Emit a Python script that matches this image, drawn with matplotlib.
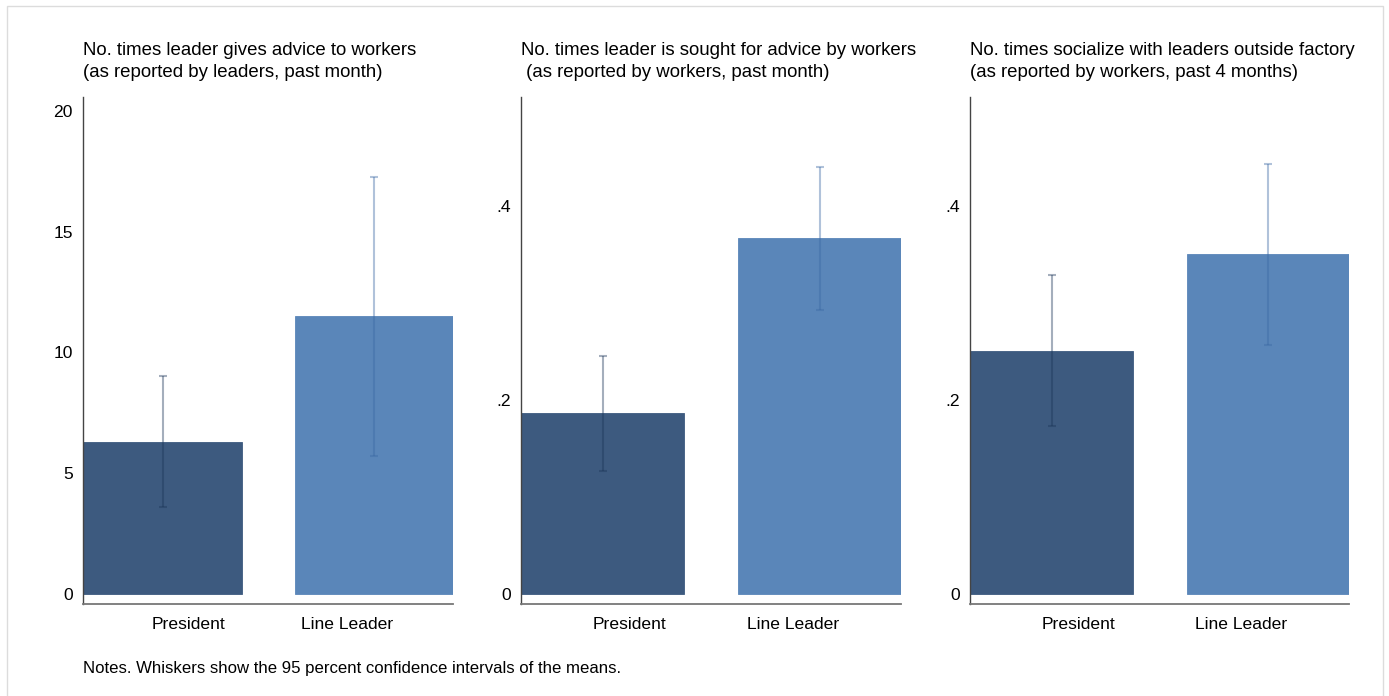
import matplotlib.pyplot as plt
from matplotlib.patches import Rectangle

plt.rcParams['font.family'] = ['Liberation Sans', 'DejaVu Sans']

groups = ['President', 'Line Leader']
titles = [
    'No. times leader gives advice to workers\n(as reported by leaders, past month)',
    'No. times leader is sought for advice by workers\n (as reported by workers, past month)',
    'No. times socialize with leaders outside factory\n(as reported by workers, past 4 months)',
]
means = [
    [6.29, 11.50],
    [0.186, 0.367],
    [0.251, 0.351],
]
ci_low = [
    [3.58, 5.72],
    [0.127, 0.293],
    [0.173, 0.257],
]
ci_high = [
    [9.00, 17.27],
    [0.245, 0.441],
    [0.329, 0.444],
]
yticks = [[0, 5, 10, 15, 20], [0, 0.2, 0.4], [0, 0.2, 0.4]]
yticklabels = [['0', '5', '10', '15', '20'], ['0', '.2', '.4'], ['0', '.2', '.4']]
ylims = [(-0.41, 20.59), (-0.0103, 0.5133), (-0.0103, 0.5133)]

bar_colors = ['#3d5a7f', '#5a86b9']
whisk_colors = ['#1c3558', '#3a68a3']

fig = plt.figure(figsize=(13.89, 6.96), dpi=100)

# light frame around the graph
fig.patches.append(Rectangle((7 / 1389, -0.05), 1376 / 1389, 1.05 - 6 / 696,
                             transform=fig.transFigure, fill=False,
                             edgecolor='#dcdcdc', linewidth=1))

boxes = [
    (83.3, 453.0),
    (521.3, 901.3),
    (970.3, 1349.3),
]
bottom = 1 - 603.5 / 696
height = (603.5 - 96.7) / 696

for i, (x0, x1) in enumerate(boxes):
    ax = fig.add_axes([x0 / 1389, bottom, (x1 - x0) / 1389, height])
    pos = [0, 1]
    ax.bar(pos, means[i], width=0.75, color=bar_colors,
           edgecolor=bar_colors, linewidth=0.6, zorder=2)
    for j in pos:
        lo = means[i][j] - ci_low[i][j]
        hi = ci_high[i][j] - means[i][j]
        ax.errorbar(pos[j], means[i][j], yerr=[[lo], [hi]], fmt='none',
                    ecolor=whisk_colors[j], alpha=0.4, elinewidth=1.5,
                    capsize=3, capthick=1.5, zorder=3)
    ax.set_xlim(-0.375, 1.375)
    ax.set_ylim(*ylims[i])
    ax.set_yticks(yticks[i])
    ax.set_yticklabels(yticklabels[i])
    ax.set_xticks([0.125, 0.875])
    ax.set_xticklabels(groups)
    ax.tick_params(axis='both', length=0, labelsize=12.6, colors='black')
    ax.tick_params(axis='y', pad=7.5)
    ax.tick_params(axis='x', pad=10)
    for s in ['top', 'right']:
        ax.spines[s].set_visible(False)
    ax.spines['left'].set_color('#444444')
    ax.spines['bottom'].set_color('#777777')
    ax.spines['left'].set_linewidth(1.0)
    ax.spines['bottom'].set_linewidth(1.3)
    ax.text(0, 1 + 55 / 507, titles[i], transform=ax.transAxes,
            ha='left', va='top', fontsize=13.4, linespacing=1.38)

fig.text(83 / 1389, 1 - 668 / 696, 'Notes. Whiskers show the 95 percent confidence intervals of the means.',
         ha='left', va='center', fontsize=12.1)

fig.savefig('out.png', dpi=100, facecolor='white')
